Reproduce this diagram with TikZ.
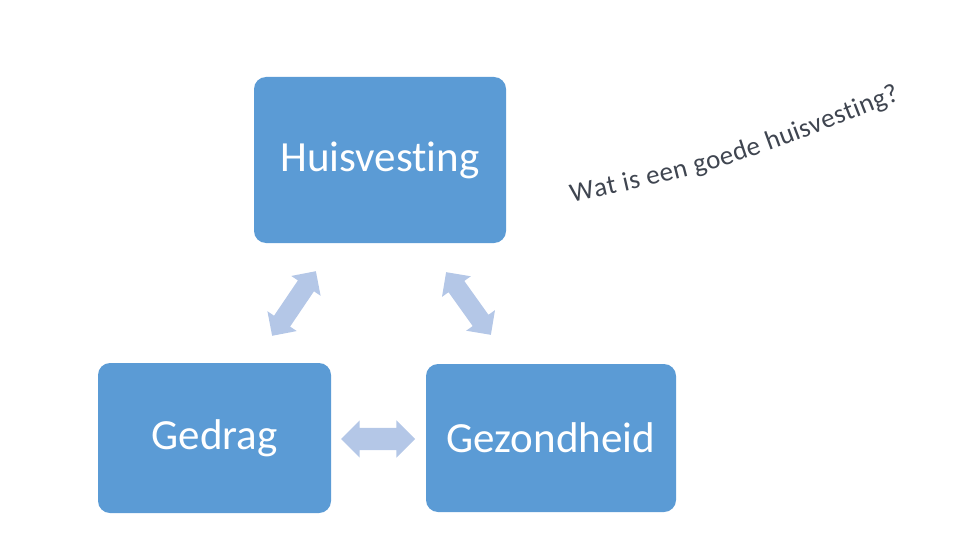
\documentclass[tikz,border=0pt]{standalone}
\usepackage{fontspec}
\setmainfont{Carlito}[Ligatures=NoCommon]
\usetikzlibrary{shapes.arrows,decorations.text}
\definecolor{boxblue}{HTML}{5B9BD5}
\definecolor{arrowblue}{HTML}{B4C7E7}
\definecolor{textgrey}{HTML}{3F4550}
\tikzset{
  themabox/.style={fill=boxblue, rounded corners=12pt, text=white,
    font=\fontsize{43}{50}\selectfont},
  pijl/.style={double arrow, fill=arrowblue, inner xsep=0pt,
    double arrow tip angle=90, sloped, midway}
}

\begin{document}
\begin{tikzpicture}[x=1pt,y=-1pt]
  \useasboundingbox (0,0) rectangle (960,540);
  % 定义三个方框
  \node[themabox, minimum width=252pt, minimum height=166pt] (huis) at (380,160) {Huisvesting};
  \node[themabox, minimum width=233pt, minimum height=150pt] (gedrag) at (214.5,438) {Gedrag};
  \node[themabox, minimum width=250pt, minimum height=148pt] (gezond) at (551,438) {Gezondheid};

  % 定义双箭头端点
  \coordinate (L1) at (272,336);
  \coordinate (L2) at (316,271);
  \coordinate (R1) at (446,272);
  \coordinate (R2) at (491,335);
  \coordinate (H1) at (341,439);
  \coordinate (H2) at (415,439);
  % 绘制双箭头
  \path (L1) -- (L2) node[pijl, inner ysep=9.5pt, double arrow head extend=8pt, minimum height=78pt] (pijlL) {};
  \path (R1) -- (R2) node[pijl, inner ysep=9.5pt, double arrow head extend=8pt, minimum height=77pt] (pijlR) {};
  \path (H1) -- (H2) node[pijl, inner ysep=11pt, double arrow head extend=7.5pt, minimum height=74pt] (pijlH) {};

  % 弧形文字
  \coordinate (T1) at (572,203);
  \coordinate (T2) at (727,168);
  \coordinate (T3) at (900,100);
  \path[decorate, decoration={text along path, text align={fit to path},
    text={|\fontsize{27}{32}\selectfont\color{textgrey}|Wat is een goede huisvesting?}}]
    (T1) .. controls (T2) .. (T3);
\end{tikzpicture}
\end{document}
